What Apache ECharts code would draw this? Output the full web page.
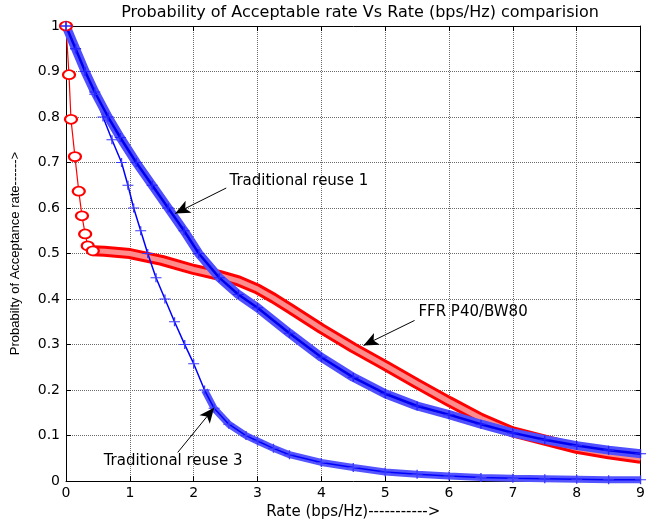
<!DOCTYPE html>
<html>
<head>
<meta charset="utf-8">
<script src="https://cdn.jsdelivr.net/npm/echarts@6/dist/echarts.min.js"></script>
<style>
html,body{margin:0;padding:0;background:#fff;}
#chart{width:648px;height:525px;}
</style>
</head>
<body>
<div id="chart"></div>
<script>
// ---- data ----
const xTickLabels = ['0','1','2','3','4','5','6','7','8','9'];
const yTickLabels = ['0','0.1','0.2','0.3','0.4','0.5','0.6','0.7','0.8','0.9','1'];

const rateReuse1 = [0, 0.15, 0.3, 0.45, 0.66, 0.85, 1.1, 1.35, 1.6, 1.85, 2.08, 2.4, 2.7, 3.0, 3.5, 4.0, 4.5, 5.0, 5.5, 6.0, 6.5, 7.0, 7.5, 8.0, 8.5, 9.0];
const probReuse1 = [1, 0.95, 0.9, 0.855, 0.8, 0.755, 0.7, 0.65, 0.6, 0.55, 0.5, 0.447, 0.41, 0.381, 0.325, 0.272, 0.228, 0.192, 0.165, 0.146, 0.125, 0.106, 0.091, 0.078, 0.068, 0.06];

const rateReuse3 = [0, 0.15, 0.3, 0.45, 0.58, 0.72, 0.87, 0.97, 1.06, 1.17, 1.28, 1.41, 1.55, 1.7, 1.86, 2.0, 2.17, 2.32, 2.55, 2.82, 3.0, 3.25, 3.5, 4.0, 4.5, 5.0, 5.5, 6.0, 6.5, 7.0, 7.5, 8.0, 8.5, 9.0];
const probReuse3 = [1, 0.95, 0.9, 0.85, 0.8, 0.75, 0.7, 0.65, 0.6, 0.55, 0.5, 0.447, 0.4, 0.35, 0.3, 0.258, 0.2, 0.16, 0.125, 0.1, 0.088, 0.072, 0.058, 0.041, 0.03, 0.02, 0.015, 0.011, 0.008, 0.006, 0.005, 0.004, 0.003, 0.003];

const rateFFR = [0, 0.047, 0.078, 0.14, 0.2, 0.25, 0.3, 0.34, 0.42, 0.6, 1.0, 1.5, 2.0, 2.4, 2.7, 3.0, 3.25, 3.5, 4.0, 4.5, 5.0, 5.5, 6.0, 6.5, 7.0, 7.5, 8.0, 8.5, 9.0];
const probFFR = [1, 0.893, 0.795, 0.713, 0.637, 0.583, 0.543, 0.517, 0.506, 0.505, 0.5, 0.485, 0.465, 0.452, 0.44, 0.422, 0.402, 0.38, 0.335, 0.293, 0.254, 0.214, 0.175, 0.138, 0.108, 0.09, 0.072, 0.06, 0.05];

const annotationNames = ['Traditional reuse 1', 'FFR P40/BW80', 'Traditional reuse 3'];
const annotationTextAt = [[2.56, 0.659], [5.52, 0.371], [0.59, 0.043]];
const arrowFrom = [[2.51, 0.644], [5.46, 0.353], [1.75, 0.063]];
const arrowTo = [[1.71, 0.588], [4.66, 0.298], [2.32, 0.161]];

const titleText = 'Probability of Acceptable rate Vs Rate (bps/Hz) comparision';
const xName = 'Rate (bps/Hz)----------->';
const yName = 'Probabilty of Acceptance rate------>';

// ---- build ----
function pairs(xs, ys, from, to) { return xs.map((x, i) => [x, ys[i]]).slice(from || 0, to); }
const plusSym = 'path://M0,5L10,5M5,0L5,10';
const FFR_DENSE_FROM = 8;
const R3_DENSE_FROM = 16;

const axisFont = 'DejaVu Sans';
const gridLine = {show: true, lineStyle: {color: '#6a6a6a', type: 'dotted', width: 1}};

const chart = echarts.init(document.getElementById('chart'), null, {renderer: 'canvas'});
chart.setOption({
  animation: false,
  backgroundColor: '#fff',
  title: {
    text: titleText, left: 355, textAlign: 'center', top: 0,
    textStyle: {fontFamily: axisFont, fontSize: 16, fontWeight: 'normal', color: '#000'}
  },
  grid: {left: 66, right: 4, top: 26, bottom: 39},
  xAxis: [{
    type: 'value', min: 0, max: 9, interval: 1, position: 'bottom',
    name: xName, nameLocation: 'middle', nameGap: 19,
    nameTextStyle: {fontFamily: axisFont, fontSize: 15, color: '#000'},
    axisLine: {show: true, onZero: false, lineStyle: {color: '#000', width: 1}},
    axisTick: {show: true, inside: true, length: 5, lineStyle: {color: '#000'}},
    axisLabel: {color: '#000', fontFamily: axisFont, fontSize: 14, margin: 5,
      formatter: (v, i) => xTickLabels[i]},
    splitLine: gridLine
  }, {
    type: 'value', min: 0, max: 9, interval: 1, position: 'top',
    axisLine: {show: true, onZero: false, lineStyle: {color: '#000', width: 1}},
    axisTick: {show: true, inside: true, length: 5, lineStyle: {color: '#000'}},
    axisLabel: {show: false}, splitLine: {show: false}
  }],
  yAxis: [{
    type: 'value', min: 0, max: 1, interval: 0.1, position: 'left',
    name: yName, nameLocation: 'middle', nameRotate: 90, nameGap: 44,
    nameTextStyle: {fontFamily: 'Liberation Sans', fontSize: 13, color: '#000'},
    axisLine: {show: true, onZero: false, lineStyle: {color: '#000', width: 1}},
    axisTick: {show: true, inside: true, length: 5, lineStyle: {color: '#000'}},
    axisLabel: {color: '#000', fontFamily: axisFont, fontSize: 14, margin: 6,
      formatter: (v, i) => yTickLabels[i]},
    splitLine: gridLine
  }, {
    type: 'value', min: 0, max: 1, interval: 0.1, position: 'right',
    axisLine: {show: true, onZero: false, lineStyle: {color: '#000', width: 1}},
    axisTick: {show: true, inside: true, length: 5, lineStyle: {color: '#000'}},
    axisLabel: {show: false}, splitLine: {show: false}
  }],
  series: [
    // FFR P40/BW80 : dense circle band
    {type: 'line', name: 'FFR band', data: pairs(rateFFR, probFFR, FFR_DENSE_FROM),
      symbol: 'none', lineStyle: {color: '#ff0000', width: 11}, silent: true},
    {type: 'line', name: 'FFR band inner', data: pairs(rateFFR, probFFR, FFR_DENSE_FROM),
      symbol: 'none', lineStyle: {color: '#ff8c8c', width: 5}, silent: true},
    {type: 'line', name: 'FFR P40/BW80', data: pairs(rateFFR, probFFR, 0, FFR_DENSE_FROM + 1),
      symbol: 'emptyCircle', symbolSize: [12, 9], showAllSymbol: true,
      itemStyle: {color: '#ff0000', borderColor: '#ff0000', borderWidth: 1},
      lineStyle: {color: '#ff0000', width: 1.2}},
    // Traditional reuse 3
    {type: 'line', name: 'reuse3 band', data: pairs(rateReuse3, probReuse3, R3_DENSE_FROM),
      symbol: 'none', lineStyle: {color: '#5555ff', width: 7}, silent: true},
    {type: 'line', name: 'Traditional reuse 3', data: pairs(rateReuse3, probReuse3),
      symbol: plusSym, symbolSize: [11, 9], showAllSymbol: true,
      itemStyle: {color: 'rgba(0,0,0,0)', borderColor: '#3a3aff', borderWidth: 1.2},
      lineStyle: {color: '#0000ff', width: 1.5}},
    // Traditional reuse 1
    {type: 'line', name: 'reuse1 band', data: pairs(rateReuse1, probReuse1),
      symbol: 'none', lineStyle: {color: '#4f4fff', width: 9}, silent: true},
    {type: 'line', name: 'Traditional reuse 1', data: pairs(rateReuse1, probReuse1),
      symbol: plusSym, symbolSize: [11, 9], showAllSymbol: true,
      itemStyle: {color: 'rgba(0,0,0,0)', borderColor: '#2222ff', borderWidth: 1.2},
      lineStyle: {color: '#0000ee', width: 2.5},
      markLine: {
        silent: true, animation: false,
        lineStyle: {color: '#000', width: 1, type: 'solid'},
        label: {show: false},
        data: arrowFrom.map((p, i) => [
          {coord: p, symbol: 'none'},
          {coord: arrowTo[i], symbol: 'arrow', symbolSize: [10, 15]}
        ])
      },
      markPoint: {
        silent: true, animation: false,
        symbol: 'circle', symbolSize: 0,
        label: {show: true, position: 'right', distance: 0, formatter: '{b}',
          color: '#000', fontFamily: axisFont, fontSize: 15},
        data: annotationNames.map((n, i) => ({name: n, coord: annotationTextAt[i]}))
      }
    }
  ]
});
</script>
</body>
</html>
